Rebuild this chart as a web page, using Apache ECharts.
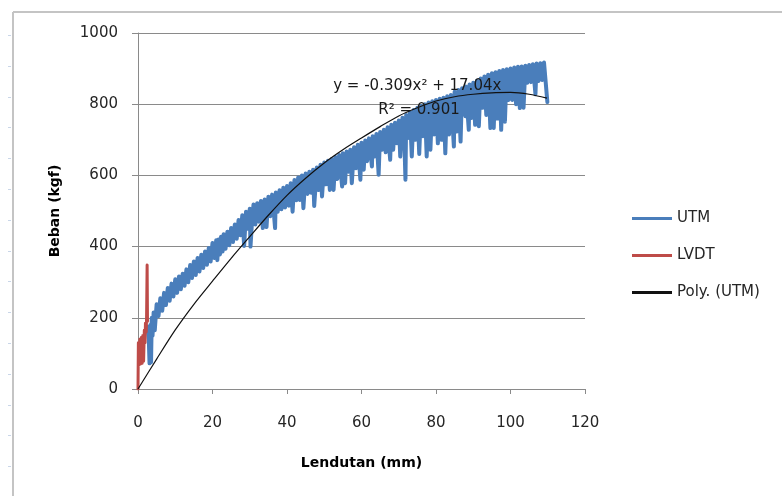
<!DOCTYPE html>
<html>
<head>
<meta charset="utf-8">
<script src="https://cdn.jsdelivr.net/npm/echarts@6/dist/echarts.min.js"></script>
<style>
  html, body { margin: 0; padding: 0; background: #ffffff; }
  #chart { width: 782px; height: 496px; }
</style>
</head>
<body>
<div id="chart"></div>
<script>
// Load test readings: deflection (mm) vs load (kgf)

// UTM, first loading step
const utmStart = [
  [2.5,175],[2.9,140],[3.1,72],[3.3,180],[3.5,75],[3.7,200],[3.9,150],[4.2,215]
];
// UTM, 4 - 30 mm
const utmLow = [
  [4.5,165],[5,238],[5.5,205],[6,255],[6.5,220],[7,270],[7.5,236],[8,284],[8.5,248],[9,296],
  [9.5,260],[10,308],[10.5,270],[11,316],[11.5,280],[12,324],[12.5,290],[13,336],[13.5,300],[14,348],
  [14.5,312],[15,358],[15.5,320],[16,368],[16.5,330],[17,377],[17.5,340],[18,386],[18.5,349],[19,396],
  [19.5,358],[20,410],[20.5,368],[21,418],[21.3,362],[21.6,420],[22,378],[22.3,428],[22.7,386],[23,435],
  [23.5,394],[24,442],[24.5,404],[25,452],[25.5,413],[26,462],[26.5,422],[27,475],[27.5,432],[28,488],
  [28.5,402],[29,498],[29.5,450],[30,506],[30.2,400]
];
// UTM, 30 - 70 mm
const utmMid = [
  [30.5,452],[31,518],[31.5,462],[32,522],[32.5,470],[33,528],[33.5,452],[34,532],[34.5,455],[35,540],
  [35.5,485],[36,546],[36.5,490],[36.8,452],[37,552],[37.5,498],[38,558],[38.5,505],[39,565],[39.5,510],
  [40,570],[40.5,515],[41,578],[41.5,498],[42,587],[42.5,530],[43,594],[43.5,531],[44,600],[44.4,508],
  [45,605],[45.5,548],[46,610],[46.5,551],[47,616],[47.3,514],[48,622],[48.5,559],[49,630],[49.4,541],
  [50,636],[50.5,575],[51,641],[51.5,559],[52,646],[52.5,559],[53,652],[53.5,590],[54,657],[54.8,569],
  [55,662],[55.6,578],[56,667],[56.5,610],[57,672],[57.4,578],[58,679],[58.5,620],[59,686],[59.7,588],
  [60,692],[60.6,616],[61,698],[61.5,640],[62,704],[62.8,625],[63,710],[63.5,653],[64,716],[64.6,602],
  [65,722],[65.5,672],[66,728],[66.5,665],[67,735],[67.7,644],[68,742],[68.5,672],[69,748],[69.5,690],
  [70,754]
];
// UTM, 70 - 110 mm
const utmHigh = [
  [70.4,653],[71,762],[71.5,700],[71.8,588],[72,770],[72.5,705],[73,777],[73.5,653],[74,784],[74.5,700],
  [75,790],[75.5,660],[76,795],[76.5,710],[77,800],[77.5,653],[78,805],[78.5,672],[79,808],[79.5,715],
  [80,812],[80.5,690],[81,815],[81.5,700],[82,818],[82.5,662],[83,822],[83.5,715],[84,826],[84.8,681],
  [85,835],[85.5,723],[86,840],[86.6,695],[87,845],[87.9,766],[88,850],[88.8,728],[89,855],[89.5,761],
  [90,860],[90.5,742],[91,866],[91.5,738],[92,872],[92.5,790],[93,878],[93.5,770],[94,883],[94.6,733],
  [95,887],[95.5,733],[96,890],[96.5,760],[97,893],[97.5,728],[98,896],[98.5,751],[99,898],[99.5,812],
  [100,900],[100.5,812],[101,903],[101.5,800],[102,905],[102.5,789],[103,906],[103.5,790],[104,908],[104.5,860],
  [105,910],[105.5,862],[106,912],[106.7,828],[107,914],[107.5,865],[108,915],[108.5,868],[109,917],[109.5,915],
  [109.9,806]
];
// LVDT readings
const lvdt = [
  [0,0],[0.1,130],[0.3,68],[0.5,140],[0.7,70],[0.9,145],[1.1,72],[1.3,150],[1.5,78],[1.7,165],
  [1.9,130],[2.0,185],[2.2,160],[2.3,200],[2.45,348],[2.55,190]
];
// Polynomial trendline of the UTM readings
const polyUtm = [
  [0,0],[5,84],[10,166],[15,238],[20,303],[25,367],[30,428],[35,488],[40,544],[45,592],
  [50,635],[55,672],[60,705],[65,737],[70,767],[75,790],[80,809],[85,821],[90,828],[95,832],
  [100,833],[105,828],[109.8,817]
];
const seriesNames = ['UTM', 'LVDT', 'Poly. (UTM)'];
const trendEquation = 'y = -0.309x\u00B2 + 17.04x';
const trendR2 = 'R\u00B2 = 0.901';

const FONT = '"DejaVu Sans", "Liberation Sans", sans-serif';
const GRID_GREY = '#8a8a8a';

const chart = echarts.init(document.getElementById('chart'), null, { renderer: 'canvas' });

const lineBase = { type: 'line', showSymbol: false, symbol: 'none', smooth: false, sampling: null, animation: false };

chart.setOption({
  animation: false,
  backgroundColor: '#ffffff',
  grid: { left: 138, right: 197, top: 33, bottom: 107, containLabel: false },
  legend: {
    orient: 'vertical', left: 632, top: 211, padding: 0, itemGap: 22,
    itemWidth: 40, itemHeight: 3, icon: 'rect',
    textStyle: { fontFamily: FONT, fontSize: 15, color: '#262626' },
    data: seriesNames
  },
  xAxis: {
    type: 'value', min: 0, max: 120, interval: 20,
    name: 'Lendutan (mm)', nameLocation: 'middle', nameGap: 67,
    nameTextStyle: { fontFamily: FONT, fontSize: 14, fontWeight: 'bold', color: '#000' },
    axisLine: { show: true, onZero: false, lineStyle: { color: GRID_GREY, width: 1 } },
    axisTick: { show: true, inside: false, length: 5, lineStyle: { color: GRID_GREY } },
    axisLabel: { margin: 27, fontFamily: FONT, fontSize: 15, color: '#262626' },
    splitLine: { show: false }
  },
  yAxis: {
    type: 'value', min: 0, max: 1000, interval: 200,
    name: 'Beban (kgf)', nameLocation: 'middle', nameGap: 76, nameRotate: 90,
    nameTextStyle: { fontFamily: FONT, fontSize: 14, fontWeight: 'bold', color: '#000' },
    axisLine: { show: true, lineStyle: { color: GRID_GREY, width: 1 } },
    axisTick: { show: true, inside: false, length: 6, lineStyle: { color: GRID_GREY } },
    axisLabel: { margin: 20, fontFamily: FONT, fontSize: 15, color: '#262626',
                 formatter: function (v) { return String(v); } },
    splitLine: { show: true, lineStyle: { color: GRID_GREY, width: 1 } }
  },
  series: [
    Object.assign({}, lineBase, {
      name: seriesNames[0], z: 2,
      data: utmStart.concat(utmLow, utmMid, utmHigh),
      itemStyle: { color: '#4a7ebb' },
      lineStyle: { color: '#4a7ebb', width: 4, join: 'round', cap: 'round' }
    }),
    Object.assign({}, lineBase, {
      name: seriesNames[1], z: 3,
      data: lvdt,
      itemStyle: { color: '#be4b48' },
      lineStyle: { color: '#be4b48', width: 3, join: 'round', cap: 'round' }
    }),
    Object.assign({}, lineBase, {
      name: seriesNames[2], z: 4,
      data: polyUtm,
      smooth: 0.3,
      itemStyle: { color: '#111111' },
      lineStyle: { color: '#111111', width: 1.2 }
    })
  ]
});

// Trendline equation and R² placed in data coordinates
const eqPos = chart.convertToPixel({ gridIndex: 0 }, [52.4, 850]);
const r2Pos = chart.convertToPixel({ gridIndex: 0 }, [64.5, 784]);

// Chart frame and the small marks along the left edge
const frame = [
  { type: 'line', shape: { x1: 13, y1: 12, x2: 782, y2: 12 }, style: { stroke: '#c4c4c4', lineWidth: 2 }, silent: true },
  { type: 'line', shape: { x1: 13, y1: 12, x2: 13, y2: 496 }, style: { stroke: '#c4c4c4', lineWidth: 2 }, silent: true }
];
for (let y = 35; y < 490; y += 30.8) {
  frame.push({ type: 'line', shape: { x1: 8, y1: Math.round(y) + 0.5, x2: 11, y2: Math.round(y) + 0.5 },
    style: { stroke: '#c9d6e8', lineWidth: 1 }, silent: true });
}

chart.setOption({
  graphic: frame.concat([
    { type: 'text', z: 100, x: eqPos[0], y: eqPos[1],
      style: { text: trendEquation, fontFamily: FONT, fontSize: 15, fill: '#1a1a1a', verticalAlign: 'middle', align: 'left' } },
    { type: 'text', z: 100, x: r2Pos[0], y: r2Pos[1],
      style: { text: trendR2, fontFamily: FONT, fontSize: 15, fill: '#1a1a1a', verticalAlign: 'middle', align: 'left' } }
  ])
});
</script>
</body>
</html>
